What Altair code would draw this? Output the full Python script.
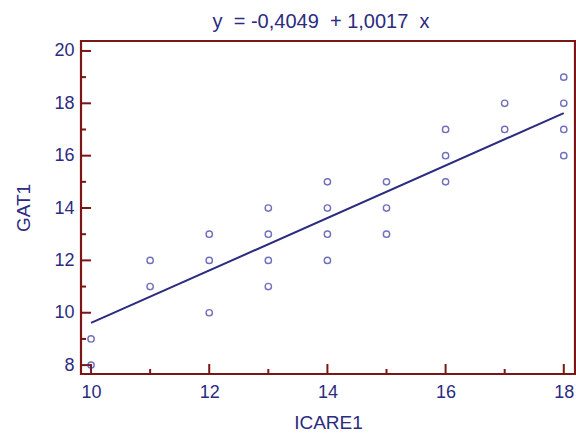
import altair as alt
import pandas as pd

# Observations: ICARE1 score and matching GAT1 score
icare1 = [10, 10, 11, 11, 12, 12, 12, 13, 13, 13, 13, 14, 14, 14, 14,
          15, 15, 15, 16, 16, 16, 17, 17, 18, 18, 18, 18]
gat1 = [8, 9, 11, 12, 10, 12, 13, 11, 12, 13, 14, 12, 13, 14, 15,
        13, 14, 15, 15, 16, 17, 17, 18, 16, 17, 18, 19]

# Fitted regression coefficients
intercept = -0.4049
slope = 1.0017

x_major = [10, 12, 14, 16, 18]
x_minor = [11, 13, 15, 17]
y_major = [8, 10, 12, 14, 16, 18, 20]
y_minor = [9, 11, 13, 15, 17, 19]

FRAME = "#7a1616"
INK = "#2b2b80"
MARK = "#3535a0"
FONT = "Liberation Sans"

W, H = 494, 333

points = pd.DataFrame({"ICARE1": icare1, "GAT1": gat1})
x_lo, x_hi = min(icare1), max(icare1)
fit = pd.DataFrame({
    "ICARE1": [x_lo, x_hi],
    "GAT1": [intercept + slope * x_lo, intercept + slope * x_hi],
})

xs = alt.Scale(domain=[9.83, 18.19], nice=False, zero=False)
ys = alt.Scale(domain=[7.66, 20.38], nice=False, zero=False)

x_axis = alt.Axis(values=x_major, format="d", ticks=False, domain=False, grid=False,
                  labelFont=FONT, labelFontSize=18, labelColor=INK, labelPadding=9,
                  titleFont=FONT, titleFontSize=19, titleColor=INK, titleFontWeight="normal",
                  titlePadding=12)
y_axis = alt.Axis(values=y_major, format="d", ticks=False, domain=False, grid=False,
                  labelFont=FONT, labelFontSize=18, labelColor=INK, labelPadding=7,
                  titleFont=FONT, titleFontSize=19, titleColor=INK, titleFontWeight="normal",
                  titlePadding=20)

scatter = alt.Chart(points).mark_point(
    shape="circle", filled=False, size=40, strokeWidth=1.4, color=MARK
).encode(
    x=alt.X("ICARE1:Q", scale=xs, axis=x_axis, title="ICARE1"),
    y=alt.Y("GAT1:Q", scale=ys, axis=y_axis, title="GAT1"),
)

line = alt.Chart(fit).mark_line(color=INK, strokeWidth=2).encode(
    x=alt.X("ICARE1:Q", scale=xs),
    y=alt.Y("GAT1:Q", scale=ys),
)

# Inward-pointing tick marks along the bottom and left edges
def x_ticks(vals, length):
    return alt.Chart(pd.DataFrame({"v": vals})).mark_rule(color=FRAME, strokeWidth=2).encode(
        x=alt.X("v:Q", scale=xs), y=alt.value(H), y2=alt.value(H - length))

def y_ticks(vals, length):
    return alt.Chart(pd.DataFrame({"v": vals})).mark_rule(color=FRAME, strokeWidth=2).encode(
        y=alt.Y("v:Q", scale=ys), x=alt.value(0), x2=alt.value(length))

NB = "\u00a0"
title_text = f"y{NB}{NB}={NB}-0,4049{NB}{NB}+{NB}1,0017{NB}{NB}x"

chart = alt.layer(
    x_ticks(x_major, 10), x_ticks(x_minor, 5),
    y_ticks(y_major, 10), y_ticks(y_minor, 5),
    line, scatter,
).properties(
    width=W, height=H,
    title=alt.TitleParams(
        title_text,
        font=FONT, fontSize=20, color=INK, fontWeight="normal",
        anchor="middle", dx=-7, offset=9,
    ),
    autosize=alt.AutoSizeParams(type="none"),
    padding={"left": 81, "top": 41, "right": 1, "bottom": 60},
).configure_view(
    stroke=FRAME, strokeWidth=2.2
)

chart.save("out.html", embed_options={"renderer": "svg", "actions": False})
